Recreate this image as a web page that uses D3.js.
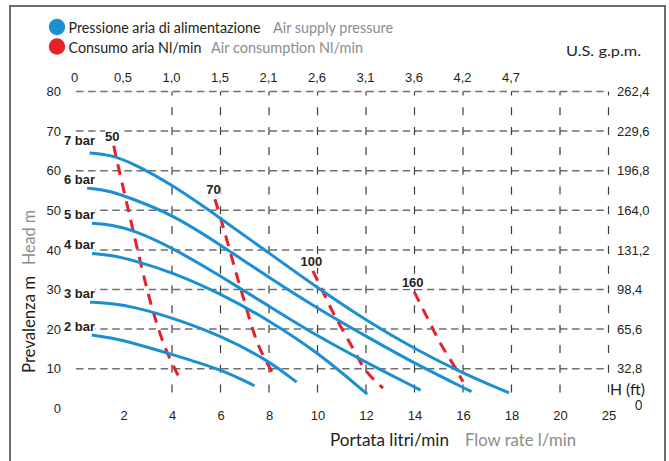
<!DOCTYPE html>
<html><head><meta charset="utf-8">
<script src="https://cdn.jsdelivr.net/npm/d3@7"></script>
<style>body{margin:0;background:#fff}svg{display:block}</style>
</head><body>
<svg id="chart" width="669" height="461"></svg>
<script>
// ---------- data ----------
const flowTicks = [2, 4, 6, 8, 10, 12, 14, 16, 18, 20, 22];
const flowTickLabels = ["2", "4", "6", "8", "10", "12", "14", "16", "18", "20", "25"];
const flowGrid = [4, 6, 8, 10, 12, 14, 16, 18, 20, 22];
const gpmTicks = [0, 2, 4, 6, 8, 10, 12, 14, 16, 18];
const gpmLabels = ["0", "0,5", "1,0", "1,5", "2,1", "2,6", "3,1", "3,6", "4,2", "4,7"];
const headTicks = [0, 10, 20, 30, 40, 50, 60, 70, 80];
const headLabels = ["0", "10", "20", "30", "40", "50", "60", "70", "80"];
const feetTicks = [10, 20, 30, 40, 50, 60, 70, 80];
const feetLabels = ["32,8", "65,6", "98,4", "131,2", "164,0", "196,8", "229,6", "262,4"];

const pressureNames = ["7 bar", "6 bar", "5 bar", "4 bar", "3 bar", "2 bar"];
const p7 = [[0.6,64.5],[1.4,64.1],[2.4,61.9],[4,56.5],[6,48],[8,39.2],[10,30.4],[12,22.2],[14,15],[16,8.8],[17.9,3.9]];
const p6 = [[0.5,55.6],[1.4,55],[2.4,52.8],[4,49],[6,41.3],[8,33],[10,25.2],[12,18.2],[14,11.3],[16.35,4.2]];
const p5 = [[0.7,46.7],[1.5,46.4],[2.5,44.8],[4,40.6],[6,33.4],[8,25.8],[10,18.2],[12,11.6],[14.25,4.6]];
const p4 = [[0.7,39.1],[1.5,38.7],[2.5,37.2],[4,34.4],[6,29],[8,22.2],[10,14.2],[12.05,3.6]];
const p3 = [[0.62,26.8],[1.5,26.5],[2.5,25.5],[4,22.9],[6,18.4],[8,12],[9.14,6.6]];
const p2 = [[0.69,18.5],[1.5,17.8],[2.5,16.3],[4,13.6],[6,9.9],[7.4,5.7]];
const pressureSeries = [p7, p6, p5, p4, p3, p2];

const consumptionNames = ["50", "70", "100", "160"];
const c50 = [[1.6,66.3],[1.65,64.5],[2.3,47.5],[2.95,30],[3.5,18.5],[3.95,11.8],[4.4,6.6]];
const c70 = [[5.77,52.8],[6.06,47],[6.72,32.4],[7.0,26.8],[7.5,16],[8.04,10.2],[8.25,7.7]];
const c100 = [[9.81,34.7],[10.39,27.3],[10.72,23.1],[11.55,14.3],[11.96,9.2],[12.7,5.1]];
const c160 = [[13.99,29.4],[14.64,21.5],[15.12,15.6],[15.67,10.5],[16.0,6.7]];
const consumptionSeries = [c50, c70, c100, c160];

const legendItalian = ["Pressione aria di alimentazione", "Consumo aria Nl/min"];
const legendEnglish = ["Air supply pressure", "Air consumption Nl/min"];

// ---------- drawing ----------
const BLUE = "#1a8fd2", RED = "#e6212b", DARK = "#231f20", GREY = "#8c8c8c";
const NUMFONT = "'Liberation Sans', Arial, sans-serif";
const HUMFONT = "Lato, 'Open Sans', sans-serif";

const svg = d3.select("#chart");
const x = d3.scaleLinear().domain([0, 22]).range([75, 608.5]);
const y = d3.scaleLinear().domain([0, 80]).range([408.3, 91.5]);

// frame
svg.append("rect").attr("x", 10).attr("y", 6).attr("width", 655).attr("height", 470)
  .attr("fill", "none").attr("stroke", "#4a4a4a").attr("stroke-width", 1.6);

// grid
const grid = svg.append("g");
grid.selectAll("line.h").data(feetTicks).join("line").attr("class", "h")
  .attr("x1", x(0) + 1).attr("x2", x(22)).attr("y1", d => y(d)).attr("y2", d => y(d))
  .attr("stroke", "#6f6f6f").attr("stroke-width", 1.5).attr("stroke-dasharray", "7.5,4.6");
grid.selectAll("line.v").data(flowGrid).join("line").attr("class", "v")
  .attr("x1", d => x(d)).attr("x2", d => x(d)).attr("y1", y(80)).attr("y2", y(2.85))
  .attr("stroke", "#3c3c3c").attr("stroke-width", 1.2)
  .attr("stroke-dasharray", "8,11.8").attr("stroke-dashoffset", 4);

// axes
function styleAxis(g) {
  g.select(".domain").remove();
  g.selectAll(".tick line").remove();
  g.attr("font-family", NUMFONT).attr("font-size", 13);
  g.selectAll("text").attr("fill", DARK);
}
svg.append("g").attr("transform", `translate(0,${y(0)})`)
  .call(d3.axisBottom(x).tickValues(flowTicks).tickFormat((d, i) => flowTickLabels[i]).tickSize(0).tickPadding(2))
  .call(styleAxis);
svg.append("g").attr("transform", `translate(-1,${y(80)})`)
  .call(d3.axisTop(x).tickValues(gpmTicks).tickFormat((d, i) => gpmLabels[i]).tickSize(0).tickPadding(9.5))
  .call(styleAxis);
svg.append("g").attr("transform", `translate(61,0)`)
  .call(d3.axisLeft(y).tickValues(headTicks).tickFormat((d, i) => headLabels[i]).tickSize(0).tickPadding(0))
  .call(styleAxis);
svg.append("g").attr("transform", `translate(617,0)`)
  .call(d3.axisRight(y).tickValues(feetTicks).tickFormat((d, i) => feetLabels[i]).tickSize(0).tickPadding(0))
  .call(styleAxis);

// right axis unit
svg.append("text").attr("x", 610).attr("y", 394.5).attr("font-family", HUMFONT).attr("font-size", 15)
  .attr("fill", DARK).attr("textLength", 35).attr("lengthAdjust", "spacingAndGlyphs").text("H (ft)");
svg.append("text").attr("x", 638.5).attr("y", 410).attr("text-anchor", "middle").attr("font-family", HUMFONT)
  .attr("font-size", 12.5).attr("fill", DARK).text("0");
svg.append("text").attr("x", 566).attr("y", 56).attr("font-family", HUMFONT).attr("font-size", 14)
  .attr("fill", DARK).attr("textLength", 75).attr("lengthAdjust", "spacingAndGlyphs").text("U.S. g.p.m.");

// curves
const blueLine = d3.line().x(d => x(d[0])).y(d => y(d[1])).curve(d3.curveBasis);
const redLine = d3.line().x(d => x(d[0])).y(d => y(d[1])).curve(d3.curveBasis);

svg.append("g").selectAll("path").data(consumptionSeries).join("path")
  .attr("d", redLine).attr("fill", "none").attr("stroke", RED).attr("stroke-width", 3)
  .attr("stroke-dasharray", "11,8");
svg.append("g").selectAll("path").data(pressureSeries).join("path")
  .attr("d", blueLine).attr("fill", "none").attr("stroke", BLUE).attr("stroke-width", 3)
  .attr("stroke-linecap", "butt");

// labels with white backing
function labelWithBack(g, tx, ty, txt, anchor) {
  const t = g.append("text").attr("x", tx).attr("y", ty).attr("text-anchor", anchor)
    .attr("font-family", NUMFONT).attr("font-size", 13).attr("font-weight", "bold")
    .attr("fill", DARK).text(txt);
  const b = t.node().getBBox();
  g.insert("rect", "text").attr("x", b.x).attr("y", b.y + 1).attr("width", b.width).attr("height", b.height - 2)
    .attr("fill", "#fff");
}
const labs = svg.append("g");
pressureSeries.forEach((s, i) => {
  labelWithBack(labs.append("g"), 64, y(s[0][1]) - (i === 0 ? 8 : 4), pressureNames[i], "start");
});
consumptionSeries.forEach((s, i) => {
  labelWithBack(labs.append("g"), x(s[0][0]) - 1.5, y(s[0][1]) - 5, consumptionNames[i], "middle");
});

// legend
const legColors = [BLUE, RED];
const legY = [33, 52.5];
const itW = [192, 133], enW = [120, 152], enX = [273, 211];
legendItalian.forEach((t, i) => {
  svg.append("circle").attr("cx", 57).attr("cy", legY[i] - 6).attr("r", 8.2).attr("fill", legColors[i]);
  svg.append("text").attr("x", 68.5).attr("y", legY[i]).attr("font-family", HUMFONT).attr("font-size", 15.5)
    .attr("fill", DARK).attr("textLength", itW[i]).attr("lengthAdjust", "spacingAndGlyphs").text(t);
  svg.append("text").attr("x", enX[i]).attr("y", legY[i]).attr("font-family", HUMFONT).attr("font-size", 15.5)
    .attr("fill", GREY).attr("textLength", enW[i]).attr("lengthAdjust", "spacingAndGlyphs").text(legendEnglish[i]);
});

// axis titles
svg.append("text").attr("x", 330).attr("y", 445.5).attr("font-family", HUMFONT).attr("font-size", 18)
  .attr("fill", DARK).attr("textLength", 119).attr("lengthAdjust", "spacingAndGlyphs").text("Portata litri/min");
svg.append("text").attr("x", 465).attr("y", 445.5).attr("font-family", HUMFONT).attr("font-size", 18)
  .attr("fill", GREY).attr("textLength", 111).attr("lengthAdjust", "spacingAndGlyphs").text("Flow rate l/min");
svg.append("text").attr("transform", "translate(35,373) rotate(-90)").attr("font-family", HUMFONT).attr("font-size", 18)
  .attr("fill", DARK).attr("textLength", 97).attr("lengthAdjust", "spacingAndGlyphs").text("Prevalenza m");
svg.append("text").attr("transform", "translate(35,265) rotate(-90)").attr("font-family", HUMFONT).attr("font-size", 18)
  .attr("fill", GREY).attr("textLength", 55).attr("lengthAdjust", "spacingAndGlyphs").text("Head m");
</script>
</body></html>
